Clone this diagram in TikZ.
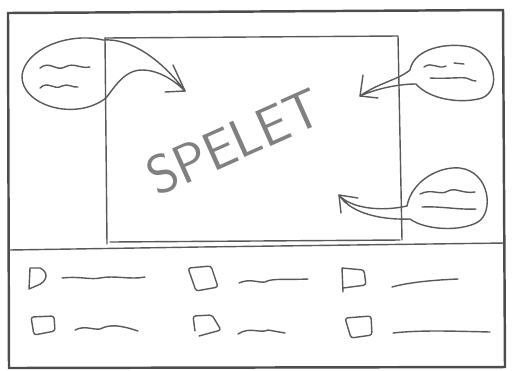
\documentclass[tikz,border=0pt]{standalone}
\usepackage{tikz}
\usetikzlibrary{calc}
\tikzset{every picture/.style={line width=0.75pt}}
\tikzset{
  pen/.style={draw=black!65, line width=0.8pt, line cap=round, line join=round},
  frame/.style={draw=black!70, line width=1.4pt},
  checkbox/.style={pen, rounded corners=1.5pt},
}

\begin{document}
\begin{tikzpicture}[x=0.02cm, y=-0.02cm]
    \useasboundingbox (0,0) rectangle (513,370);
    % ram och delning
    \draw[frame] (8,13) -- (503,10) -- (505,367) -- (9,368) -- cycle;
    \draw[pen] (9,250) -- (200,247) -- (505,243);
    % spelyta
    \draw[pen] (105,38) -- (398,36) -- (402,240);
    \draw[pen] (105,38) -- (107,244);
    \draw[pen] (110,242) -- (400,240);
    \node[rotate=24, text=black!50, font=\sffamily\fontsize{31}{31}\selectfont] (spel) at (234,142) {SPELET};
    % pratbubbla uppe till vänster
    \coordinate (tip1) at (185,91);
    \draw[pen] (tip1) .. controls (160,58) and (130,38) .. (103,40)
        .. controls (70,32) and (26,48) .. (22,75)
        .. controls (20,105) and (75,122) .. (106,98)
        .. controls (114,88) and (124,70) .. (142,70)
        .. controls (160,70) and (176,82) .. (tip1);
    \draw[pen] (173,65) -- (tip1) -- (165,92);
    \draw[pen] (40,68) .. controls (50,60) and (56,72) .. (65,67) .. controls (74,62) and (80,69) .. (90,67);
    \draw[pen] (40,88) .. controls (48,80) and (54,91) .. (62,86) .. controls (68,83) and (73,88) .. (78,87);
    % pratbubbla uppe till höger
    \coordinate (tip2) at (360,96);
    \draw[pen] (tip2) .. controls (378,83) and (398,80) .. (410,70)
        .. controls (414,48) and (448,42) .. (470,47)
        .. controls (495,54) and (502,90) .. (482,98)
        .. controls (462,104) and (430,100) .. (416,84)
        .. controls (400,84) and (378,88) .. (tip2);
    \draw[pen] (363,75) -- (tip2) -- (378,98);
    \draw[pen] (424,67) .. controls (432,61) and (438,70) .. (446,66) (454,63) -- (464,64);
    \draw[pen] (430,78) .. controls (445,79) and (460,77) .. (466,78) .. controls (470,79) and (472,81) .. (476,81);
    % pratbubbla nere till höger
    \coordinate (tip3) at (339,195);
    \draw[pen] (tip3) .. controls (350,208) and (380,212) .. (407,206)
        .. controls (412,180) and (440,166) .. (460,168)
        .. controls (490,172) and (494,212) .. (478,222)
        .. controls (460,232) and (425,230) .. (410,219)
        .. controls (385,220) and (352,215) .. (tip3);
    \draw[pen] (341,213) -- (tip3) -- (358,198);
    \draw[pen] (420,194) .. controls (432,188) and (440,196) .. (448,191) .. controls (456,187) and (462,194) .. (475,192);
    \draw[pen] (422,207) .. controls (440,206) and (460,210) .. (476,209);
    % rad 1
    \draw[pen] (30,268) -- (29,289) -- (36,286) .. controls (48,282) and (49,272) .. (40,268) -- cycle;
    \draw[pen] (62,278) .. controls (80,276) and (90,280) .. (100,278) .. controls (115,275) and (130,280) .. (145,277);
    \draw[checkbox] (188,268) -- (211,266) -- (218,287) -- (196,291) -- cycle;
    \draw[pen] (239,283) .. controls (250,278) and (258,283) .. (265,282) .. controls (272,278) and (285,280) .. (308,279);
    \draw[checkbox] (342,268) -- (343,292) (343,288) -- (366,285) -- (364,270) -- (342,268);
    \draw[pen] (392,287) .. controls (410,282) and (435,280) .. (458,279);
    % rad 2
    \draw[checkbox] (31,317) -- (54,316) -- (55,331) -- (34,335) -- cycle;
    \draw[pen] (75,330) .. controls (85,325) and (92,330) .. (100,329) .. controls (110,324) and (120,325) .. (138,331);
    \draw[checkbox] (195,331) -- (193,316) -- (212,315) -- (221,330) -- (199,336);
    \draw[pen] (238,334) .. controls (250,326) and (260,334) .. (268,330) -- (285,333);
    \draw[checkbox] (345,318) -- (371,316) -- (372,335) -- (351,338) -- cycle;
    \draw[pen] (393,333) .. controls (420,330) and (450,331) .. (490,332);
\end{tikzpicture}
\end{document}
